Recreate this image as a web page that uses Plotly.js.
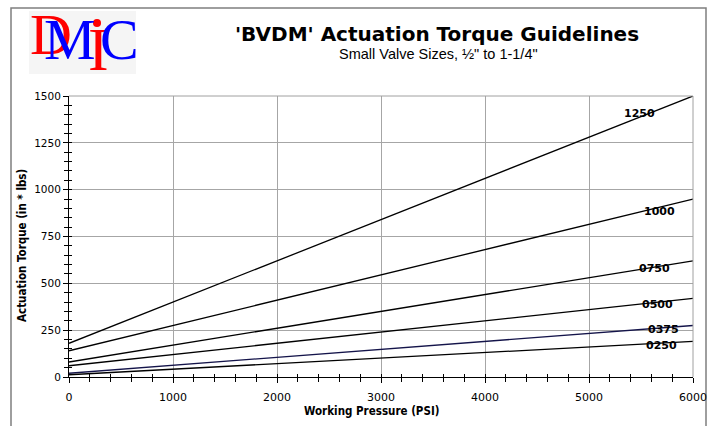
<!DOCTYPE html>
<html><head><meta charset="utf-8">
<script src="https://cdn.plot.ly/plotly-3.0.1.min.js"></script>
<style>html,body{margin:0;padding:0;background:#fff}#chart{width:716px;height:426px}</style>
</head><body><div id="chart"></div>
<script>
// ---- data ----
const pressure = [0, 6000];
const seriesNames = ["1250", "1000", "0750", "0500", "0375", "0250"];
const torque1250 = [180, 1500];
const torque1000 = [140, 950];
const torque0750 = [80, 620];
const torque0500 = [60, 420];
const torque0375 = [20, 275];
const torque0250 = [12, 190];
const xTicks = [0, 1000, 2000, 3000, 4000, 5000, 6000];
const yTicks = [0, 250, 500, 750, 1000, 1250, 1500];

// ---- layout helpers ----
const W = 716, H = 426, L = 69, R = 23, T = 96, B = 49;
const pw = W - L - R, ph = H - T - B;
const px = x => (x - L) / pw;
const py = y => (H - B - y) / ph;

const seriesData = [torque1250, torque1000, torque0750, torque0500, torque0375, torque0250];
const lineColors = ["#000", "#000", "#000", "#000", "#14144a", "#000"];
const traces = seriesData.map((v, i) => ({
  x: pressure, y: v, type: "scatter", mode: "lines", name: seriesNames[i],
  line: {color: lineColors[i], width: 1.3}, hoverinfo: "skip"
}));
traces.push({x: pressure, y: [0, 0], xaxis: "x2", yaxis: "y2", mode: "lines",
  line: {width: 0, color: "rgba(0,0,0,0)"}, hoverinfo: "skip", showlegend: false});

const labelPos = [[5490, 1405], [5680, 885], [5625, 580], [5655, 386], [5720, 253], [5700, 168]];
const ann = (x, y, text, font, extra) => Object.assign({xref: "paper", yref: "paper", x: px(x), y: py(y),
  xanchor: "center", yanchor: "middle", text: text, showarrow: false, font: font}, extra || {});
const annotations = seriesNames.map((n, i) => ({
  x: labelPos[i][0], y: labelPos[i][1], xref: "x", yref: "y", xanchor: "center", yanchor: "middle",
  text: "<b>" + n + "</b>", showarrow: false, font: {family: "DejaVu Sans", size: 11, color: "#000"}
}));
annotations.push(
  ann(437, 34, "<b>'BVDM' Actuation Torque Guidelines</b>", {family: "DejaVu Sans", size: 20, color: "#000"}),
  ann(438, 54, "Small Valve Sizes, ½\" to 1-1/4\"", {family: "Liberation Sans", size: 14.5, color: "#000"}),
  ann(371, 411, "<b>Working Pressure (PSI)</b>", {family: "DejaVu Sans Condensed", size: 11.5, color: "#000"}),
  ann(22, 246, "<b>Actuation Torque (in * lbs)</b>", {family: "DejaVu Sans Condensed", size: 11.5, color: "#000"}, {textangle: -90}),
  ann(51, 34, "D", {family: "Liberation Serif", size: 58, color: "#ff0000"}),
  ann(70, 40, "M", {family: "Liberation Serif", size: 58, color: "#0000ff"}),
  ann(98, 49, "I", {family: "Liberation Serif", size: 62, color: "#ff0000"}),
  ann(119, 40, "C", {family: "Liberation Serif", size: 58, color: "#0000ff"})
);

const shapes = [
  {type: "rect", xref: "paper", yref: "paper", x0: px(11), x1: px(706), y0: py(440), y1: py(8),
   line: {color: "#7f7f7f", width: 1.5}, fillcolor: "rgba(0,0,0,0)", layer: "below"},
  {type: "rect", xref: "paper", yref: "paper", x0: px(29), x1: px(136), y0: py(74), y1: py(11),
   line: {width: 0}, fillcolor: "#f5f5f5", layer: "below"},
  {type: "circle", xref: "paper", yref: "paper", x0: px(93), x1: px(101), y0: py(27), y1: py(19),
   line: {width: 0}, fillcolor: "#ff0000", layer: "above"},
  {type: "line", xref: "paper", yref: "paper", x0: 0, x1: 1, y0: 1, y1: 1, line: {color: "#a0a0a0", width: 1}},
  {type: "line", xref: "paper", yref: "paper", x0: 1, x1: 1, y0: 0, y1: 1, line: {color: "#a0a0a0", width: 1}}
];

const baseAxis = {
  showgrid: true, gridcolor: "#a6a6a6", gridwidth: 1, zeroline: false,
  showline: true, linecolor: "#000", linewidth: 1, ticks: "outside", ticklen: 5, tickcolor: "#000",
  fixedrange: true, tickmode: "array"
};
const layout = {
  width: W, height: H, margin: {l: L, r: R, t: T, b: B},
  paper_bgcolor: "#fff", plot_bgcolor: "#fff", showlegend: false,
  xaxis: Object.assign({}, baseAxis, {range: [0, 6000], tickvals: xTicks, ticktext: xTicks.map(String),
    tickfont: {family: "DejaVu Sans", size: 11, color: "#000"}, ticklabelstandoff: 5,
    minor: {dtick: 200, tick0: 0, ticks: "outside", ticklen: 4, tickcolor: "#000", showgrid: false}}),
  yaxis: Object.assign({}, baseAxis, {range: [0, 1500], tickvals: yTicks, ticktext: yTicks.map(String),
    tickfont: {family: "DejaVu Sans", size: 10.5, color: "#000"},
    minor: {dtick: 50, tick0: 0, ticks: "outside", ticklen: 4, tickcolor: "#000", showgrid: false}}),
  xaxis2: {overlaying: "x", anchor: "y2", range: [0, 6000], showgrid: false, zeroline: false, showline: false,
    showticklabels: false, ticks: "inside", ticklen: 3, tickcolor: "#000", dtick: 200, tick0: 0, fixedrange: true},
  yaxis2: {overlaying: "y", anchor: "x2", range: [0, 1500], showgrid: false, zeroline: false, showline: false,
    showticklabels: false, ticks: "inside", ticklen: 3, tickcolor: "#000", dtick: 50, tick0: 0, fixedrange: true},
  annotations: annotations, shapes: shapes
};
Plotly.newPlot("chart", traces, layout, {displayModeBar: false, staticPlot: true});
</script></body></html>
